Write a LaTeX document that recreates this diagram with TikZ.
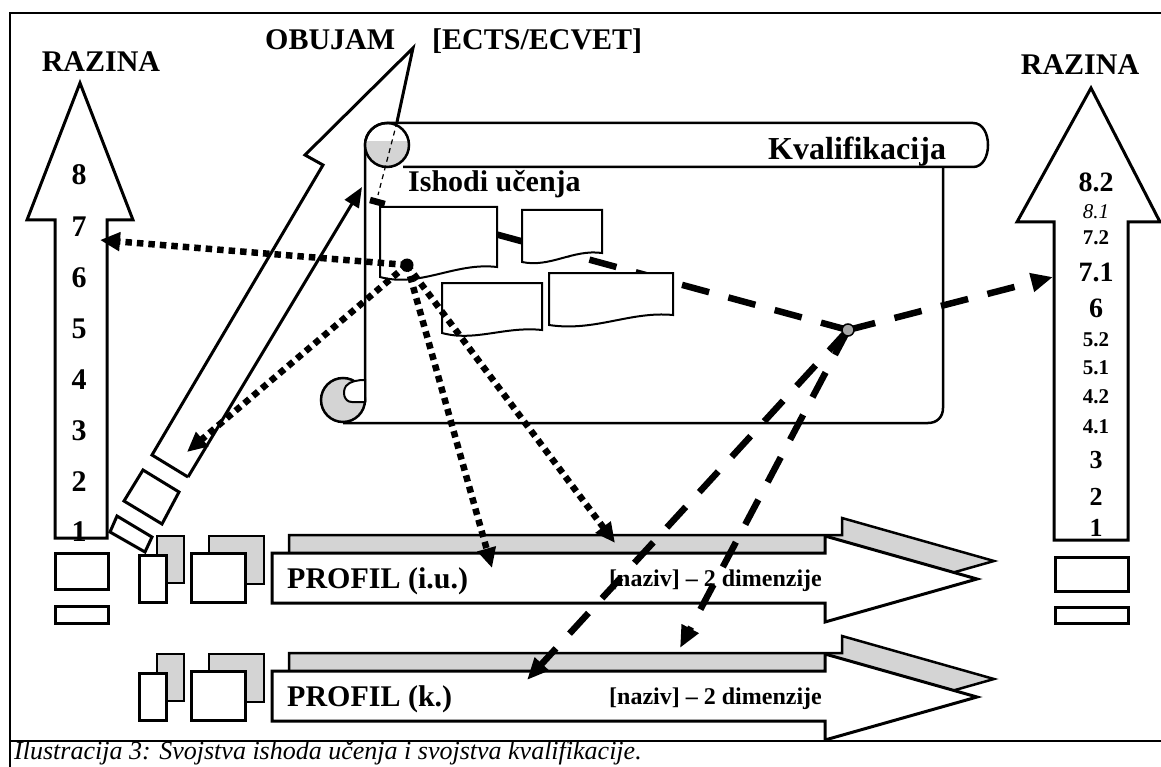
\documentclass[tikz,border=0pt]{standalone}
\usepackage{fontspec}
\setmainfont{Liberation Serif}
\usetikzlibrary{arrows.meta}
\newcommand\myfs[1]{\fontsize{#1}{#1}\selectfont}
\begin{document}
\begin{tikzpicture}[x=1pt,y=-1pt,
  outl/.style={draw=black, line width=3pt, line join=miter},
  stip/.style={fill=black!17, draw=black, line width=2.5pt},
  thinl/.style={draw=black, line width=2.5pt},
  docs/.style={draw=black, fill=white, line width=2pt},
  dotl/.style={line width=6.5pt, dash pattern=on 6.5pt off 5pt, -{Triangle[length=20pt,width=18pt]}},
  dashl/.style={line width=6.5pt, dash pattern=on 28pt off 20pt},
  dasha/.style={dashl, -{Triangle[length=22pt,width=18pt]}},
  lbl/.style={font=\myfs{30}\bfseries, inner sep=0pt},
  numb/.style={font=\myfs{#1}\bfseries, inner sep=0pt},
]
\useasboundingbox (0,0) rectangle (1161,767);
% frame
\draw[line width=2pt] (10,767) -- (10,13) -- (1161,13);
\draw[line width=2pt] (10,741) -- (1161,741);

% left level arrow
\draw[outl] (55,538) -- (55,220) -- (27,220) -- (80,83) -- (133,220) -- (107,220) -- (107,538) -- cycle;
\draw[outl] (55,553) rectangle (108,589);
\draw[outl] (55,606) rectangle (108,623);
\foreach \n/\y in {8/175,7/227,6/278,5/329,4/380,3/431,2/482,1/532}
  \node[numb=30] (L\n) at (79,\y) {\n};

% right level arrow
\draw[outl] (1054,540) -- (1054,222) -- (1017,222) -- (1091,88) -- (1160,222) -- (1128,222) -- (1128,540) -- cycle;
\draw[outl] (1055,557) rectangle (1128,591);
\draw[outl] (1055,607) rectangle (1128,623);
\node[numb=28] (R82) at (1096,182) {8.2};
\node[font=\myfs{21}\itshape, inner sep=0pt] (R81) at (1096,212) {8.1};
\node[numb=21] (R72) at (1096,238) {7.2};
\node[numb=28] (R71) at (1096,272) {7.1};
\node[numb=28] (R6) at (1096,308) {6};
\node[numb=21] (R52) at (1096,340) {5.2};
\node[numb=21] (R51) at (1096,368) {5.1};
\node[numb=21] (R42) at (1096,397) {4.2};
\node[numb=21] (R41) at (1096,427) {4.1};
\node[numb=26] (R3) at (1096,460) {3};
\node[numb=26] (R2) at (1096,497) {2};
\node[numb=26] (R1) at (1096,528) {1};

% scroll (Kvalifikacija)
\draw[thinl] (365,402) -- (365,145) .. controls (365,133) and (375,123) .. (387,123) -- (973,123) .. controls (993,123) and (993,167) .. (973,167) -- (403,167);
\draw[thinl] (943,167) -- (943,408) .. controls (943,417) and (937,423) .. (928,423) -- (343,423);
\begin{scope}
  \clip (387,145) circle[radius=22];
  \fill[black!17] (360,141) rectangle (412,170);
\end{scope}
\draw[thinl] (387,145) circle[radius=22];
\filldraw[stip] (343,400) circle[radius=22];
\filldraw[fill=white, line width=2pt] (365,380) -- (365,402) -- (352,402) .. controls (344,402) and (342,392) .. (346,386) .. controls (350,381) and (358,380) .. (365,380) -- cycle;

% dashed line under the documents
\coordinate (hub) at (848,330);
\coordinate (ul) at (370,200);
\draw[dashl] (hub) -- (ul);

% learning outcome documents
\draw[docs] (380,207) -- (497,207) -- (497,267) .. controls (455,262) and (420,288) .. (380,277) -- cycle;
\draw[docs] (522,210) -- (602,210) -- (602,253) .. controls (573,249) and (550,268) .. (522,262) -- cycle;
\draw[docs] (442,283) -- (542,283) -- (542,330) .. controls (505,326) and (475,342) .. (442,333) -- cycle;
\draw[docs] (549,273) -- (673,273) -- (673,315) .. controls (630,311) and (595,332) .. (549,325) -- cycle;

% big diagonal arrow (OBUJAM)
\coordinate (apex) at (413,48);
\coordinate (dbl) at (152,455);
\coordinate (dbr) at (188,477);
\coordinate (dtip) at (362,187);
\coordinate (cpt) at (397,122);
\coordinate (cend) at (378,195);
\draw[outl] (dbr) -- (dbl) -- (323,165) -- (305,155) -- (apex) -- (cpt);
\draw[line width=3pt, -{Triangle[length=20pt,width=16pt]}] (dbr) -- (dtip);
\draw[line width=1.2pt, dash pattern=on 5pt off 4pt] (cpt) -- (cend);
\draw[outl] (143,470) -- (179,492) -- (162,524) -- (124,501) -- cycle;
\draw[outl] (117,516) -- (152,537) -- (145,552) -- (110,532) -- cycle;

% profile arrows
\foreach \dy/\nm/\tx in {0/1/PROFIL (i.u.),118/2/PROFIL (k.)} {
  \begin{scope}[shift={(0,\dy)}]
    \filldraw[stip] (157,536) rectangle (184,583);
    \filldraw[stip] (209,536) rectangle (264,584);
    \draw[outl, fill=white] (139,555) rectangle (166,602);
    \draw[outl, fill=white] (191,553) rectangle (245,602);
    \filldraw[stip] (289,535) -- (842,535) -- (842,518) -- (994,561) -- (842,604) -- (842,585) -- (289,585) -- cycle;
    \draw[outl, fill=white] (272,553) -- (825,553) -- (825,536) -- (977,579) -- (825,622) -- (825,603) -- (272,603) -- cycle;
    \node[lbl, anchor=base west] (prof\nm) at (287,588) {\tx};
    \node[font=\myfs{24}\bfseries, inner sep=0pt, anchor=base east] (naz\nm) at (822,586) {[naziv] – 2 dimenzije};
  \end{scope}
}

% dotted arrows from the learning outcome
\node[circle, fill=black, inner sep=0pt, minimum size=13pt] (dot) at (407,265) {};
\coordinate (t7) at (100,240);
\coordinate (tdiag) at (187,452);
\coordinate (tp1) at (492,568);
\coordinate (tp2) at (615,543);
\draw[dotl] (dot.center) -- (t7);
\draw[dotl] (dot.center) -- (tdiag);
\draw[dotl] (dot.center) -- (tp1);
\draw[dotl] (dot.center) -- (tp2);

% dashed arrows from the qualification
\coordinate (r71) at (1053,277);
\coordinate (k1) at (527,680);
\coordinate (k2) at (680,648);
\draw[dasha] (hub) -- (r71);
\draw[dasha] (hub) -- (k1);
\draw[dasha] (hub) -- (k2);
\node[circle, draw=black, line width=1.5pt, fill=black!35, inner sep=0pt, minimum size=12pt] (hubn) at (hub) {};

% labels
\node[lbl, anchor=base west] (obujam) at (265,50) {OBUJAM};
\node[lbl, anchor=base west] (ects) at (432,50) {[ECTS/ECVET]};
\node[lbl, anchor=base] (razL) at (101,72) {RAZINA};
\node[lbl, anchor=base] (razR) at (1080,75) {RAZINA};
\node[font=\myfs{32}\bfseries, inner sep=0pt, anchor=base west] (kval) at (768,160) {Kvalifikacija};
\node[lbl, anchor=base west] (ishodi) at (408,192) {Ishodi učenja};
\node[font=\myfs{26}\itshape, inner sep=0pt, anchor=base west] (cap) at (14,759) {Ilustracija 3: Svojstva ishoda učenja i svojstva kvalifikacije.};
\end{tikzpicture}
\end{document}
